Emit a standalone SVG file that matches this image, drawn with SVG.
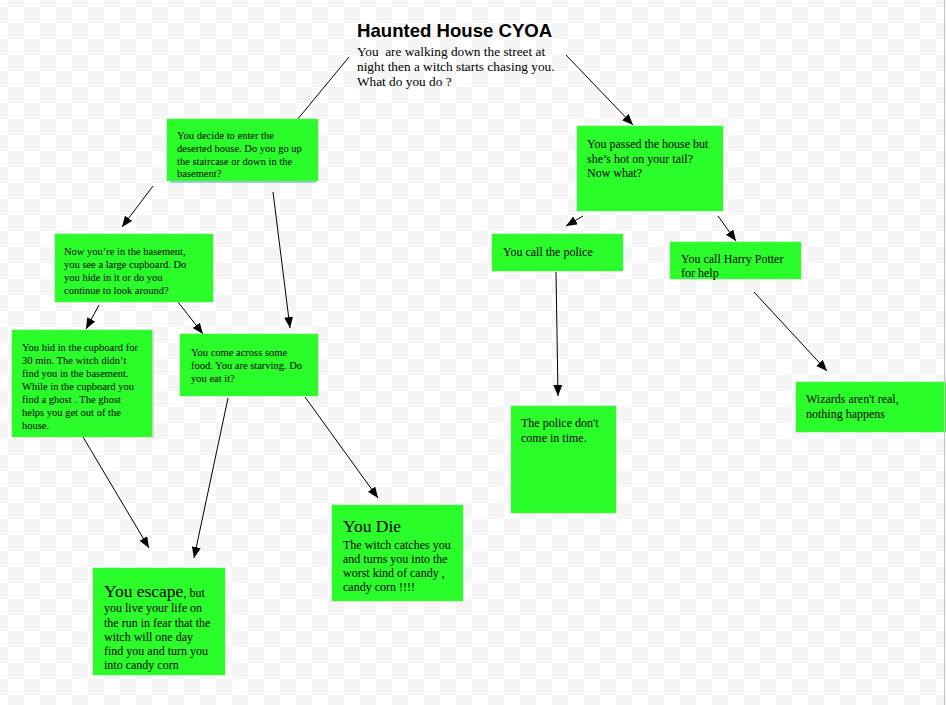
<svg xmlns="http://www.w3.org/2000/svg" width="946" height="705" viewBox="0 0 946 705">
<defs>
<pattern id="chk" x="-8" y="7" width="32" height="32" patternUnits="userSpaceOnUse">
<rect width="32" height="32" fill="#ffffff"/>
<rect x="0" y="0" width="16" height="16" fill="#f5f5f5"/>
<rect x="16" y="16" width="16" height="16" fill="#f5f5f5"/>
</pattern>
<marker id="ah" markerUnits="userSpaceOnUse" markerWidth="12" markerHeight="10" refX="11" refY="4.5" orient="auto">
<path d="M0,0 L11,4.5 L0,9 Z" fill="#000"/>
</marker>
</defs>
<style>
.box{fill:#2bfd2b;stroke:#5fe85f;stroke-width:0.6}
.t{font-family:"Liberation Serif","Times New Roman",serif;fill:#000}
.s{font-size:10.5px}
.m{font-size:12px}
.b{font-size:17.5px}
.ln{stroke:#000;stroke-width:1;fill:none}
</style>
<rect width="946" height="705" fill="url(#chk)"/>

<g id="title">
<text x="357" y="37" font-family="'Liberation Sans',Arial,sans-serif" font-weight="bold" font-size="18.6">Haunted House CYOA</text>
<text class="t" x="357" y="55.5" font-size="13.3" xml:space="preserve">You  are walking down the street at</text>
<text class="t" x="357" y="70.5" font-size="13.3">night then a witch starts chasing you.</text>
<text class="t" x="357" y="86" font-size="13.3">What do you do ?</text>
</g>

<g id="connectors">
<line class="ln" x1="349" y1="57" x2="297" y2="120"/>
<line class="ln" x1="566" y1="55" x2="633" y2="125" marker-end="url(#ah)"/>
<line class="ln" x1="153" y1="186" x2="122" y2="227" marker-end="url(#ah)"/>
<line class="ln" x1="273" y1="192" x2="290" y2="328" marker-end="url(#ah)"/>
<line class="ln" x1="99" y1="305" x2="86" y2="329" marker-end="url(#ah)"/>
<line class="ln" x1="178" y1="302" x2="203" y2="334" marker-end="url(#ah)"/>
<line class="ln" x1="83" y1="437" x2="149" y2="548" marker-end="url(#ah)"/>
<line class="ln" x1="228" y1="398" x2="194" y2="558" marker-end="url(#ah)"/>
<line class="ln" x1="305" y1="397" x2="378" y2="498" marker-end="url(#ah)"/>
<line class="ln" x1="583" y1="216" x2="566" y2="226" marker-end="url(#ah)"/>
<line class="ln" x1="718" y1="216" x2="736" y2="241" marker-end="url(#ah)"/>
<line class="ln" x1="556" y1="272" x2="558" y2="396" marker-end="url(#ah)"/>
<line class="ln" x1="754" y1="292" x2="827" y2="371" marker-end="url(#ah)"/>
</g>

<g id="n1">
<line x1="170" y1="182" x2="316" y2="182" stroke="#9ec8f0" stroke-width="2"/>
<rect class="box" x="167" y="119" width="151" height="62"/>
<text class="t s" x="177" y="139">You decide to enter the</text>
<text class="t s" x="177" y="152">deserted house. Do you go up</text>
<text class="t s" x="177" y="165">the staircase or down in the</text>
<text class="t s" x="177" y="177">basement?</text>
</g>

<g id="n2">
<rect class="box" x="55" y="234" width="158" height="68"/>
<text class="t s" x="64" y="255">Now you’re in the basement,</text>
<text class="t s" x="64" y="268">you see a large cupboard. Do</text>
<text class="t s" x="64" y="281">you hide in it or do you</text>
<text class="t s" x="64" y="294">continue to look around?</text>
</g>

<g id="n3">
<rect x="151" y="331" width="3" height="107" fill="#dcdcdc"/>
<rect class="box" x="12" y="330" width="140" height="107"/>
<text class="t s" x="22" y="351">You hid in the cupboard for</text>
<text class="t s" x="22" y="364">30 min. The witch didn’t</text>
<text class="t s" x="22" y="377">find you in the basement.</text>
<text class="t s" x="22" y="390">While in the cupboard you</text>
<text class="t s" x="22" y="403">find a ghost . The ghost</text>
<text class="t s" x="22" y="416">helps you get out of the</text>
<text class="t s" x="22" y="429">house.</text>
</g>

<g id="n4">
<rect class="box" x="180" y="334" width="138" height="62"/>
<text class="t s" x="191" y="356">You come across some</text>
<text class="t s" x="191" y="369">food. You are starving. Do</text>
<text class="t s" x="191" y="382">you eat it?</text>
</g>

<g id="n5">
<rect class="box" x="577" y="126" width="146" height="85"/>
<text class="t m" x="587" y="148">You passed the house but</text>
<text class="t m" x="587" y="163">she’s hot on your tail?</text>
<text class="t m" x="587" y="177">Now what?</text>
</g>

<g id="n6">
<rect class="box" x="492" y="234" width="131" height="37"/>
<text class="t m" x="503" y="256">You call the police</text>
</g>

<g id="n7">
<rect class="box" x="670" y="242" width="131" height="37"/>
<text class="t m" x="681" y="263">You call Harry Potter</text>
<text class="t m" x="681" y="277">for help</text>
</g>

<g id="n8">
<rect class="box" x="511" y="406" width="105" height="107"/>
<text class="t m" x="521" y="427">The police don't</text>
<text class="t m" x="521" y="442">come in time.</text>
</g>

<g id="n9">
<rect class="box" x="796" y="382" width="152" height="50"/>
<text class="t m" x="806" y="403">Wizards aren't real,</text>
<text class="t m" x="806" y="418">nothing happens</text>
</g>

<line x1="944.5" y1="0" x2="944.5" y2="705" stroke="#c4c4c4" stroke-width="1"/>

<g id="n10">
<rect class="box" x="93" y="568" width="132" height="107"/>
<text class="t m" x="104" y="597"><tspan class="b">You escape</tspan>, but</text>
<text class="t m" x="104" y="612">you live your life on</text>
<text class="t m" x="104" y="626.5">the run in fear that the</text>
<text class="t m" x="104" y="640.5">witch will one day</text>
<text class="t m" x="104" y="655">find you and turn you</text>
<text class="t m" x="104" y="669">into candy corn</text>
</g>

<g id="n11">
<rect class="box" x="332" y="505" width="131" height="96"/>
<text class="t b" x="343" y="532">You Die</text>
<text class="t m" x="343" y="549">The witch catches you</text>
<text class="t m" x="343" y="563">and turns you into the</text>
<text class="t m" x="343" y="577">worst kind of candy ,</text>
<text class="t m" x="343" y="591">candy corn !!!!</text>
</g>
</svg>
